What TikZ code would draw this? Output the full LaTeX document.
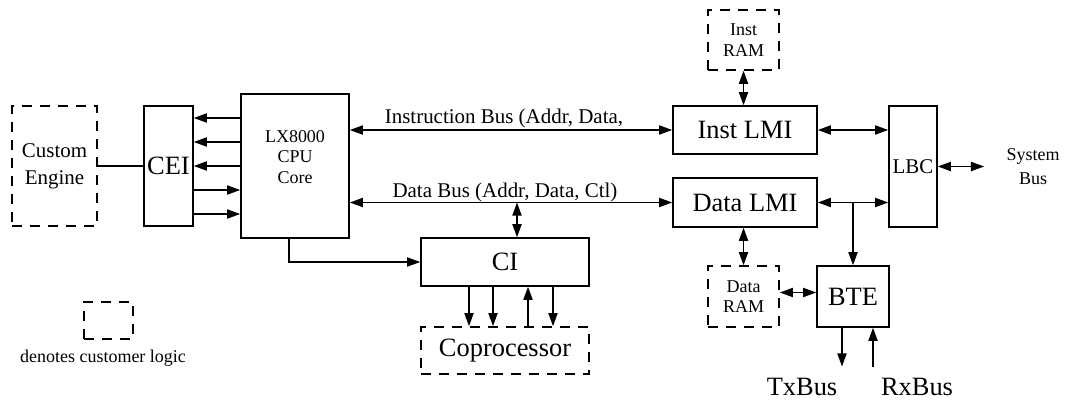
\documentclass[tikz,border=0pt]{standalone}
\usepackage{fontspec}
\setmainfont{Liberation Serif}
\usetikzlibrary{arrows.meta, positioning}
\newcommand{\bigtxt}{\fontsize{18.8}{22}\selectfont}
\newcommand{\midtxt}{\fontsize{14.9}{19.3}\selectfont}
\newcommand{\smltxt}{\fontsize{12.8}{14.6}\selectfont}

\begin{document}
\begin{tikzpicture}[line width=1.1pt, >={Triangle[length=0.33cm,width=0.23cm]},
  blk/.style={draw, line width=1.1pt, inner sep=0pt, align=center},
  cust/.style={blk, dash pattern=on 0.25cm off 0.2cm},
  lbl/.style={inner sep=0pt, align=center},
]
  \useasboundingbox (0,0) rectangle (26.825,-10.05);
  % core side
  \node[cust, minimum width=2.125cm, minimum height=3cm, font=\midtxt] (eng) at (1.3625,-4.15) {Custom\\Engine};
  \node[blk, minimum width=1.225cm, minimum height=3cm, font=\bigtxt] (cei) at (4.2125,-4.15) {CEI};
  \node[blk, minimum width=2.7cm, minimum height=3.6cm] (cpu) at (7.375,-4.15) {};
  \node[lbl, font=\smltxt] (cpu-txt) at ([yshift=0.225cm]cpu.center) {LX8000\\CPU\\Core};
  \node[blk, minimum width=4.2cm, minimum height=1.2cm, font=\bigtxt] (ci) at (12.625,-6.55) {CI};
  \node[cust, minimum width=4.2cm, minimum height=1.175cm, font=\bigtxt] (cop) at (12.625,-8.7625) {Coprocessor};
  \node[lbl, font=\midtxt, anchor=base] (ibus-txt) at (12.6,-3.1) {Instruction Bus (Addr, Data,};
  \node[lbl, font=\midtxt, anchor=base] (dbus-txt) at (12.625,-4.925) {Data Bus (Addr, Data, Ctl)};
  % memory side
  \node[blk, minimum width=3.6cm, minimum height=1.2cm, font=\bigtxt] (ilmi) at (18.625,-3.25) {Inst LMI};
  \node[blk, minimum width=3.6cm, minimum height=1.225cm, font=\bigtxt] (dlmi) at (18.625,-5.0625) {Data LMI};
  \node[cust, minimum width=1.775cm, minimum height=1.5cm, font=\smltxt] (iram) at (18.5875,-1.0) {Inst\\RAM};
  \node[cust, minimum width=1.775cm, minimum height=1.525cm, font=\smltxt] (dram) at (18.5875,-7.4125) {Data\\RAM};
  \node[blk, minimum width=1.2cm, minimum height=3.025cm, font=\midtxt] (lbc) at (22.825,-4.1625) {LBC};
  \node[blk, minimum width=1.8cm, minimum height=1.525cm, font=\bigtxt] (bte) at (21.325,-7.4125) {BTE};
  \node[lbl, font=\fontsize{12.8}{17}\selectfont] (sysbus) at (25.825,-4.175) {System\\Bus};
  \node[lbl, font=\bigtxt, anchor=base] (txb) at (20.05,-9.875) {TxBus};
  \node[lbl, font=\bigtxt, anchor=base] (rxb) at (22.925,-9.875) {RxBus};
  % legend
  \node[cust, minimum width=1.225cm, minimum height=0.925cm] (key) at (2.7125,-8.0125) {};
  \node[lbl, font=\smltxt, anchor=base] (key-txt) at (2.575,-9.05) {denotes customer logic};

  \draw (eng) -- (cei);
  \foreach \dy/\dir in {1.2/<-,0.6/<-,0/<-,-0.6/->,-1.2/->}
    \draw[\dir] ([yshift=\dy cm]cei.east) -- ([yshift=\dy cm]cpu.west);
  \draw[<->] (cpu.east |- ilmi.west) -- (ilmi.west);
  \draw[<->] (cpu.east |- dlmi.west) -- (dlmi.west);
  \coordinate (ci-in) at ([xshift=0.3cm]ci.north);
  \draw[<->] (ci-in |- dlmi.west) -- (ci-in);
  \draw[->] ([xshift=-0.15cm]cpu.south) |- (ci.west);
  \foreach \dx/\dir in {-0.9/->,-0.3/->,0.575/<-,1.2/->}
    \draw[\dir] ([xshift=\dx cm]ci.south) -- ([xshift=\dx cm]cop.north);
  \draw[<->] (iram.south) -- (iram.south |- ilmi.north);
  \draw[<->] (dram.north) -- (dram.north |- dlmi.south);
  \draw[<->] (ilmi.east) -- (lbc.west |- ilmi.east);
  \draw[<->] (dlmi.east) -- (lbc.west |- dlmi.east);
  \draw[->] (bte.north |- dlmi.east) -- (bte.north);
  \coordinate (sys-in) at ([xshift=-0.54cm]sysbus.west);
  \draw[<->] (lbc.east) -- (sys-in |- lbc.east);
  \draw[<->] ([yshift=0.1cm]dram.east) -- ([yshift=0.1cm]bte.west);
  \coordinate (bus-end) at ([yshift=0.26cm]txb.north);
  \draw[->] ([xshift=-0.275cm]bte.south) -- ([xshift=-0.275cm]bte.south |- bus-end);
  \draw[<-] ([xshift=0.5cm]bte.south) -- ([xshift=0.5cm]bte.south |- bus-end);
\end{tikzpicture}
\end{document}
